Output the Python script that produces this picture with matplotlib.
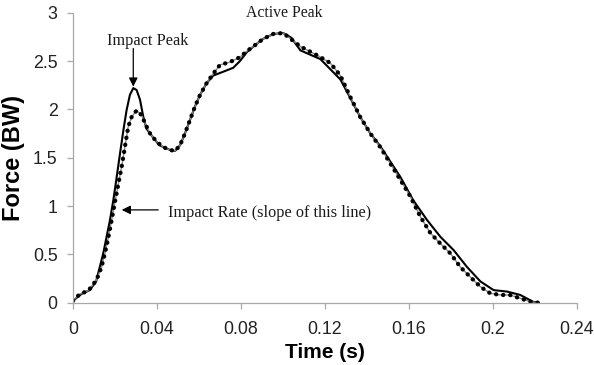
import matplotlib
matplotlib.use("Agg")
import matplotlib.pyplot as plt

# Vertical ground reaction force during stance, in body weights
t_solid = [0.0, 0.004, 0.008, 0.011, 0.0144, 0.0176, 0.0192, 0.0208, 0.0224, 0.024,
           0.0255, 0.0271, 0.0287, 0.0303, 0.0319, 0.0335, 0.035, 0.0374, 0.041, 0.0462,
           0.0486, 0.051, 0.0533, 0.0557, 0.0581, 0.0605, 0.0636, 0.0668, 0.0716, 0.0763,
           0.0795, 0.0827, 0.0867, 0.0906, 0.0954, 0.1001, 0.1040, 0.1083, 0.1178, 0.1273,
           0.132, 0.1368, 0.1416, 0.1463, 0.1511, 0.1559, 0.162, 0.1686, 0.175, 0.1812,
           0.1876, 0.194, 0.2003, 0.2067, 0.213, 0.219, 0.2218]
f_solid = [0.02, 0.09, 0.13, 0.22, 0.51, 0.855, 1.06, 1.30, 1.545, 1.785,
           1.99, 2.15, 2.22, 2.20, 2.10, 1.92, 1.80, 1.73, 1.63, 1.58,
           1.57, 1.63, 1.75, 1.89, 2.03, 2.15, 2.27, 2.35, 2.39, 2.43,
           2.50, 2.59, 2.665, 2.73, 2.78, 2.79, 2.74, 2.61, 2.52, 2.31,
           2.12, 1.92, 1.75, 1.62, 1.46, 1.30, 1.06, 0.855, 0.68, 0.545,
           0.37, 0.22, 0.13, 0.115, 0.08, 0.01, 0.0]

t_dotted = [0.0, 0.0033, 0.0073, 0.0112, 0.0136, 0.0152, 0.0168, 0.0184, 0.02, 0.0216,
            0.0232, 0.0247, 0.0263, 0.0279, 0.0303, 0.0327, 0.0343, 0.0367, 0.0398, 0.043,
            0.0462, 0.0486, 0.051, 0.0533, 0.0557, 0.0581, 0.0605, 0.0636, 0.0668, 0.07,
            0.0748, 0.0795, 0.0827, 0.0867, 0.0906, 0.0954, 0.1001, 0.1083, 0.1162, 0.1225,
            0.1273, 0.132, 0.1368, 0.1416, 0.1463, 0.1511, 0.1559, 0.1606, 0.1654, 0.1702,
            0.175, 0.1797, 0.1844, 0.189, 0.194, 0.1987, 0.2035, 0.208, 0.213, 0.2178,
            0.2216]
f_dotted = [0.02, 0.09, 0.124, 0.235, 0.37, 0.51, 0.67, 0.855, 1.045, 1.23,
            1.41, 1.61, 1.82, 1.92, 1.99, 1.94, 1.855, 1.75, 1.665, 1.61,
            1.58, 1.57, 1.63, 1.75, 1.89, 2.03, 2.15, 2.27, 2.37, 2.46,
            2.49, 2.54, 2.60, 2.665, 2.73, 2.78, 2.79, 2.65, 2.56, 2.48,
            2.35, 2.13, 1.92, 1.75, 1.61, 1.44, 1.27, 1.10, 0.89, 0.72,
            0.61, 0.51, 0.37, 0.27, 0.165, 0.097, 0.08, 0.08, 0.045, 0.01,
            0.0]

x_ticks = [0, 0.04, 0.08, 0.12, 0.16, 0.2, 0.24]
x_tick_labels = ["0", "0.04", "0.08", "0.12", "0.16", "0.2", "0.24"]
y_ticks = [0, 0.5, 1, 1.5, 2, 2.5, 3]
y_tick_labels = ["0", "0.5", "1", "1.5", "2", "2.5", "3"]

fig = plt.figure(figsize=(5.94, 3.65), dpi=100)
ax = fig.add_axes([0.1229, 0.1707, 0.8485, 0.7945])

ax.plot(t_solid, f_solid, color="black", lw=1.5, solid_capstyle="round")
ax.plot(t_dotted, f_dotted, color="#8a8a8a", lw=1.0)
ax.plot(t_dotted, f_dotted, color="black", lw=3.1,
        linestyle=(0, (0.05, 1.6)), dash_capstyle="round")

ax.set_xlim(0, 0.24)
ax.set_ylim(0, 3)
ax.set_xticks(x_ticks)
ax.set_xticklabels(x_tick_labels)
ax.set_yticks(y_ticks)
ax.set_yticklabels(y_tick_labels)

for side in ("top", "right"):
    ax.spines[side].set_visible(False)
for side in ("left", "bottom"):
    ax.spines[side].set_color("#a8a8a8")
    ax.spines[side].set_linewidth(0.9)

sans = ["Liberation Sans", "DejaVu Sans"]
serif = ["Liberation Serif", "DejaVu Serif"]

ax.tick_params(axis="both", colors="#a8a8a8", length=4, width=0.9,
               labelcolor="#222222", labelsize=12.8)
ax.tick_params(axis="x", pad=9)
ax.tick_params(axis="y", pad=7)
for lbl in ax.get_xticklabels() + ax.get_yticklabels():
    lbl.set_family(sans)

ax.set_xlabel("Time (s)", family=sans, fontsize=15, fontweight="bold", labelpad=4)
ax.set_ylabel("Force (BW)", family=sans, fontsize=17, fontweight="bold", labelpad=6)

arrow = dict(arrowstyle="-|>", color="black", lw=0.9, mutation_scale=13,
             shrinkA=0, shrinkB=0)
ax.annotate("", xy=(0.0287, 2.235), xytext=(0.0287, 2.63), arrowprops=arrow)
ax.text(0.0356, 2.71, "Impact Peak", family=serif, fontsize=11.7,
        ha="center", va="center", color="#1a1a1a")

ax.annotate("", xy=(0.0232, 0.96), xytext=(0.0406, 0.96), arrowprops=arrow)
ax.text(0.0454, 0.93, "Impact Rate (slope of this line)", family=serif,
        fontsize=11.7, ha="left", va="center", color="#1a1a1a")

ax.text(0.1006, 2.995, "Active Peak", family=serif, fontsize=11.3,
        ha="center", va="center", color="#1a1a1a", clip_on=False)

fig.savefig("out.png", dpi=100)
